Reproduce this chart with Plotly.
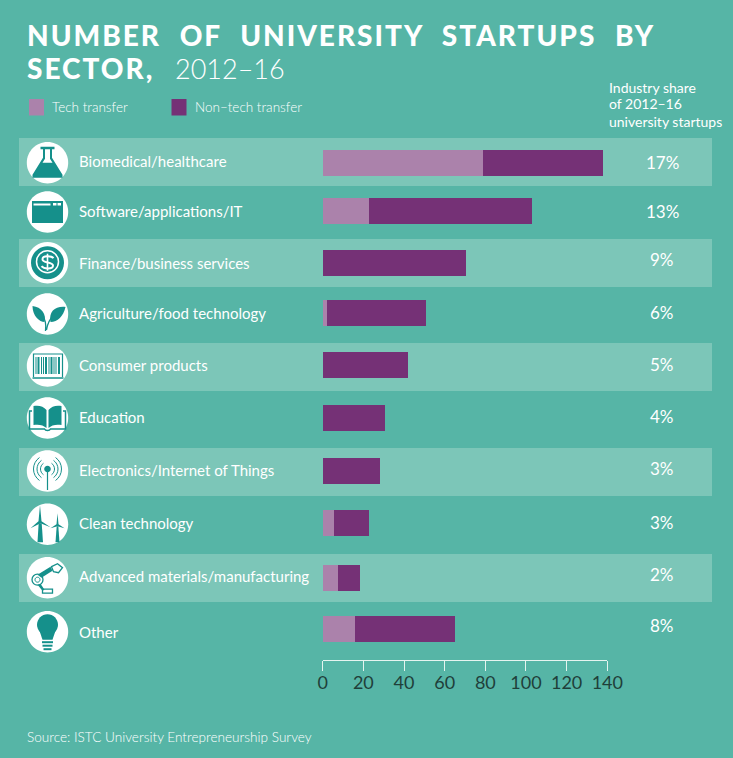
import math
import re
import plotly.graph_objects as go

W, H = 733, 758

categories = ["Biomedical/healthcare", "Software/applications/IT", "Finance/business services",
              "Agriculture/food technology", "Consumer products", "Education",
              "Electronics/Internet of Things", "Clean technology",
              "Advanced materials/manufacturing", "Other"]
tech_transfer = [79, 23, 0, 2, 0, 0, 0, 5.5, 7.5, 16]
non_tech_transfer = [59, 80, 70.5, 49, 42, 30.5, 28, 17.5, 11, 49]
industry_share = ["17%", "13%", "9%", "6%", "5%", "4%", "3%", "3%", "2%", "8%"]
x_ticks = [0, 20, 40, 60, 80, 100, 120, 140]

# page layout, the rows in the picture are not evenly spaced
bar_centers = [163, 211, 263, 313, 365, 418, 471, 523, 578, 629]
label_centers = [161, 211, 263, 313, 365, 417, 470, 523, 576, 632]
share_centers = [162, 211, 260, 312, 364, 416, 468, 522, 574, 625]
icon_centers = [162.7, 212, 262.7, 314, 366, 418, 471, 524.3, 577.7, 631.7]
bands = [(138, 186), (239, 287), (343, 391), (448, 496), (554, 602)]

BG = "#56B5A6"
BAND = "#7CC6B8"
LIGHT = "#AB82AB"
DARK = "#753176"
TEAL = "#15908B"
WHITE = "#FFFFFF"
FONT = "Lato"

ROW = 51.9
TOP = 160.5 - ROW / 2


def px(x):
    return x / W


def py(y):
    return 1 - y / H


def to_paper(path, cx, cy):
    # path written in pixels around the icon centre
    nums = iter([0, 1] * 1000)
    def conv(m):
        v = float(m.group())
        if next(nums) == 0:
            return f"{px(cx + v):.5f}"
        return f"{py(cy + v):.5f}"
    return re.sub(r"-?\d+\.?\d*", conv, path)


def rect(x0, y0, x1, y1):
    return f"M{x0},{y0} L{x1},{y0} L{x1},{y1} L{x0},{y1} Z"


def disc(x, y, r):
    k = 0.552 * r
    return (f"M{x-r},{y} C{x-r},{y-k} {x-k},{y-r} {x},{y-r} C{x+k},{y-r} {x+r},{y-k} {x+r},{y} "
            f"C{x+r},{y+k} {x+k},{y+r} {x},{y+r} C{x-k},{y+r} {x-r},{y+k} {x-r},{y} Z")


def arc(x, y, r, a0, a1):
    pts = []
    for i in range(9):
        a = math.radians(a0 + (a1 - a0) * i / 8)
        pts.append(f"{x + r*math.cos(a):.2f},{y + r*math.sin(a):.2f}")
    return "M" + " L".join(pts)


# each icon: (path, fill, line colour, line width)
icons = [
    [("M-7,-16 L7,-16 L7,-13.5 L4.5,-13.5 L4.5,-5 L15,12 L15,15 L-15,15 L-15,12 L-4.5,-5 L-4.5,-13.5 L-7,-13.5 Z", TEAL, None, 0),
     ("M-2.5,-13.5 L2.5,-13.5 L2.5,-4 L5,0 L-5,0 L-2.5,-4 Z", WHITE, None, 0)],
    [(rect(-15.5, -11, 15.5, 11), TEAL, None, 0),
     (rect(-14, -8.5, 3, -6.5), WHITE, None, 0),
     (rect(5.5, -9, 9, -6.5), WHITE, None, 0),
     (rect(10, -9, 13.5, -6.5), WHITE, None, 0)],
    [(disc(0, 0, 16.5), TEAL, None, 0),
     (disc(0, -1, 11), None, WHITE, 1.5),
     ("M6,-4.5 C4,-7 -5,-7.5 -5,-3.5 C-5,1 5.5,-1.5 5.5,3 C5.5,6.5 -3.5,6.5 -6,3.5", None, WHITE, 2),
     (rect(-0.8, -9, 0.8, 8), WHITE, None, 0)],
    [("M-15,-8 C-15,2 -8,8 -3,8 C-1,0 -6,-7 -15,-8 Z", TEAL, None, 0),
     ("M18,-7 C8,-8 1,-3 3,8 C10,8 16,2 18,-7 Z", TEAL, None, 0),
     ("M-6,-1 C-2,5 -1,10 -2,17 M7,0 C3,4 0,9 -1,16", None, TEAL, 1.3)],
    [("M-14,11 L-14,-12 L15,-12 L15,11", None, TEAL, 1.2),
     ("M-15,12 L16,12", None, TEAL, 1.5)] +
    [(rect(x, -9, x + w, 8), TEAL, None, 0) for x, w in
     [(-12, 1), (-10, 2), (-6.5, 1), (-4.5, 1), (-2.5, 2), (1, 1), (3, 2), (6, 1), (8, 1), (10.5, 2)]],
    [("M-14,-12 C-9,-13 -4,-12 -1,-8 L-1,10 C-4,7 -9,6 -14,7 Z", TEAL, None, 0),
     ("M14,-12 C9,-13 4,-12 1,-8 L1,10 C4,7 9,6 14,7 Z", TEAL, None, 0),
     ("M-15.5,-7 L-18,-7 L-18,11 L-3,11 C-2,13 2,13 3,11 L18,11 L18,-7 L15.5,-7", None, TEAL, 1.5)],
    [(disc(0, -2, 3.3), TEAL, None, 0),
     (rect(-0.6, -2, 0.6, 19), TEAL, None, 0)] +
    [(arc(0, -2, r, a0, a1), None, TEAL, 1) for r in (7, 10.5, 14) for a0, a1 in ((125, 235), (-55, 55))],
    [("M-7.5,-19 L-6,-3 L3,3 L-7,-1 L-17,4 L-9,-3 Z", TEAL, None, 0),
     ("M-8.8,-1 L-5.8,-1 L-4.5,18 L-10,18 Z", TEAL, None, 0),
     ("M10,-11 L11,0 L17,4 L10,2 L3,4 L9,0 Z", TEAL, None, 0),
     ("M9.2,2 L10.8,2 L12,18 L8,18 Z", TEAL, None, 0)],
    [(disc(-10, 2, 5.5), None, TEAL, 1.3),
     (disc(-10, 2, 2.5), None, TEAL, 1),
     ("M-10,-3 L3,-11 L5,-7 L-6,0 Z", TEAL, None, 0),
     ("M-7,6 L-3,12 L-5,13 L-10,7 Z", TEAL, None, 0),
     (rect(-5, 11.5, 5, 15.5), None, TEAL, 1.3),
     ("M4,-11 L10,-14 L15,-10 L11,-5 L6,-6 Z", None, TEAL, 1.3)],
    [(disc(0, -7, 10.5), TEAL, None, 0),
     ("M-8,-1 L8,-1 L5,8 L-5,8 Z", TEAL, None, 0),
     (rect(-5.5, 9.5, 5.5, 11.5), TEAL, None, 0),
     (rect(-5, 13, 5, 15), TEAL, None, 0),
     (rect(-4, 16.5, 4, 18.5), TEAL, None, 0)],
]

offsets = [-0.25 + (c - (160.5 + i * ROW)) / ROW for i, c in enumerate(bar_centers)]

fig = go.Figure()
fig.add_bar(name="Tech transfer", y=categories, x=tech_transfer, orientation="h",
            marker=dict(color=LIGHT, line_width=0), width=0.5, offset=offsets)
fig.add_bar(name="Non–tech transfer", y=categories, x=non_tech_transfer, orientation="h",
            marker=dict(color=DARK, line_width=0), width=0.5, offset=offsets)

shapes = []
for y0, y1 in bands:
    shapes.append(dict(type="rect", xref="paper", yref="paper", x0=px(19), x1=px(712), y0=py(y0), y1=py(y1),
                       fillcolor=BAND, line_width=0, layer="below"))
for x0, c in ((29, LIGHT), (171.5, DARK)):
    shapes.append(dict(type="rect", xref="paper", yref="paper", x0=px(x0), x1=px(x0 + 15), y0=py(99), y1=py(115.5),
                       fillcolor=c, line_width=0))
for cy, parts in zip(icon_centers, icons):
    shapes.append(dict(type="path", xref="paper", yref="paper", path=to_paper(disc(0, 0, 20.7), 47.5, cy),
                       fillcolor=WHITE, line_width=0))
    for path, fill, line, lw in parts:
        s = dict(type="path", xref="paper", yref="paper", path=to_paper(path, 47.5, cy))
        s["fillcolor"] = fill if fill else "rgba(0,0,0,0)"
        s["line"] = dict(color=line, width=lw) if line else dict(width=0)
        shapes.append(s)


def note(text, x, y, size, color=WHITE, weight=400, anchor="left"):
    return dict(text=text, xref="paper", yref="paper", x=px(x), y=py(y), xanchor=anchor, yanchor="middle",
                showarrow=False, font=dict(family=FONT, size=size, color=color, weight=weight),
                borderpad=0, align="left")


notes = [
    note("NUMBER OF UNIVERSITY STARTUPS BY", 26, 35, 28, weight=900),
    note("SECTOR,", 26, 68, 28, weight=900),
    note("2012–16", 174, 68, 27, weight=300),
    note("Tech transfer", 50.5, 107, 13.5, weight=300),
    note("Non–tech transfer", 194, 107, 13.5, weight=300),
    note("Industry share", 608, 87, 14),
    note("of 2012–16", 608, 104, 14),
    note("university startups", 608, 122, 14),
    note("Source: ISTC University Entrepreneurship Survey", 26, 737, 13.6, weight=300),
]
for name, share, ly, sy in zip(categories, industry_share, label_centers, share_centers):
    notes.append(note(name, 77.5, ly, 15))
    notes.append(note(share, 662, sy, 17, anchor="center"))

fig.update_layout(
    width=W, height=H, margin=dict(l=0, r=0, t=0, b=0, autoexpand=False),
    paper_bgcolor=BG, plot_bgcolor="rgba(0,0,0,0)",
    barmode="stack", showlegend=False, shapes=shapes, annotations=notes,
    xaxis=dict(domain=[px(322.7), px(607.3)], range=[0, 140], tickvals=x_ticks, anchor="free",
               position=py(659.5), side="bottom", ticks="outside", ticklen=10, tickwidth=1.3, tickcolor="#E6F4F0",
               showline=True, linecolor="#E6F4F0", linewidth=1.3, showgrid=False, zeroline=False,
               ticklabelstandoff=-3, tickfont=dict(family=FONT, size=18, color="#1F3F3A")),
    yaxis=dict(domain=[py(TOP + 10 * ROW), py(TOP)], range=[9.5, -0.5], visible=False,
               type="category", categoryorder="array", categoryarray=categories),
)

post = """
document.body.style.margin = '0';
document.querySelectorAll('.annotation').forEach(function (a) {
  var t = a.querySelector('text');
  if (t && /^(NUMBER|SECTOR)/.test(t.textContent)) {
    t.style.letterSpacing = '2px';
    t.style.wordSpacing = '10px';
  }
});
"""
fig.write_html("out.html", post_script=post, config=dict(displayModeBar=False))
